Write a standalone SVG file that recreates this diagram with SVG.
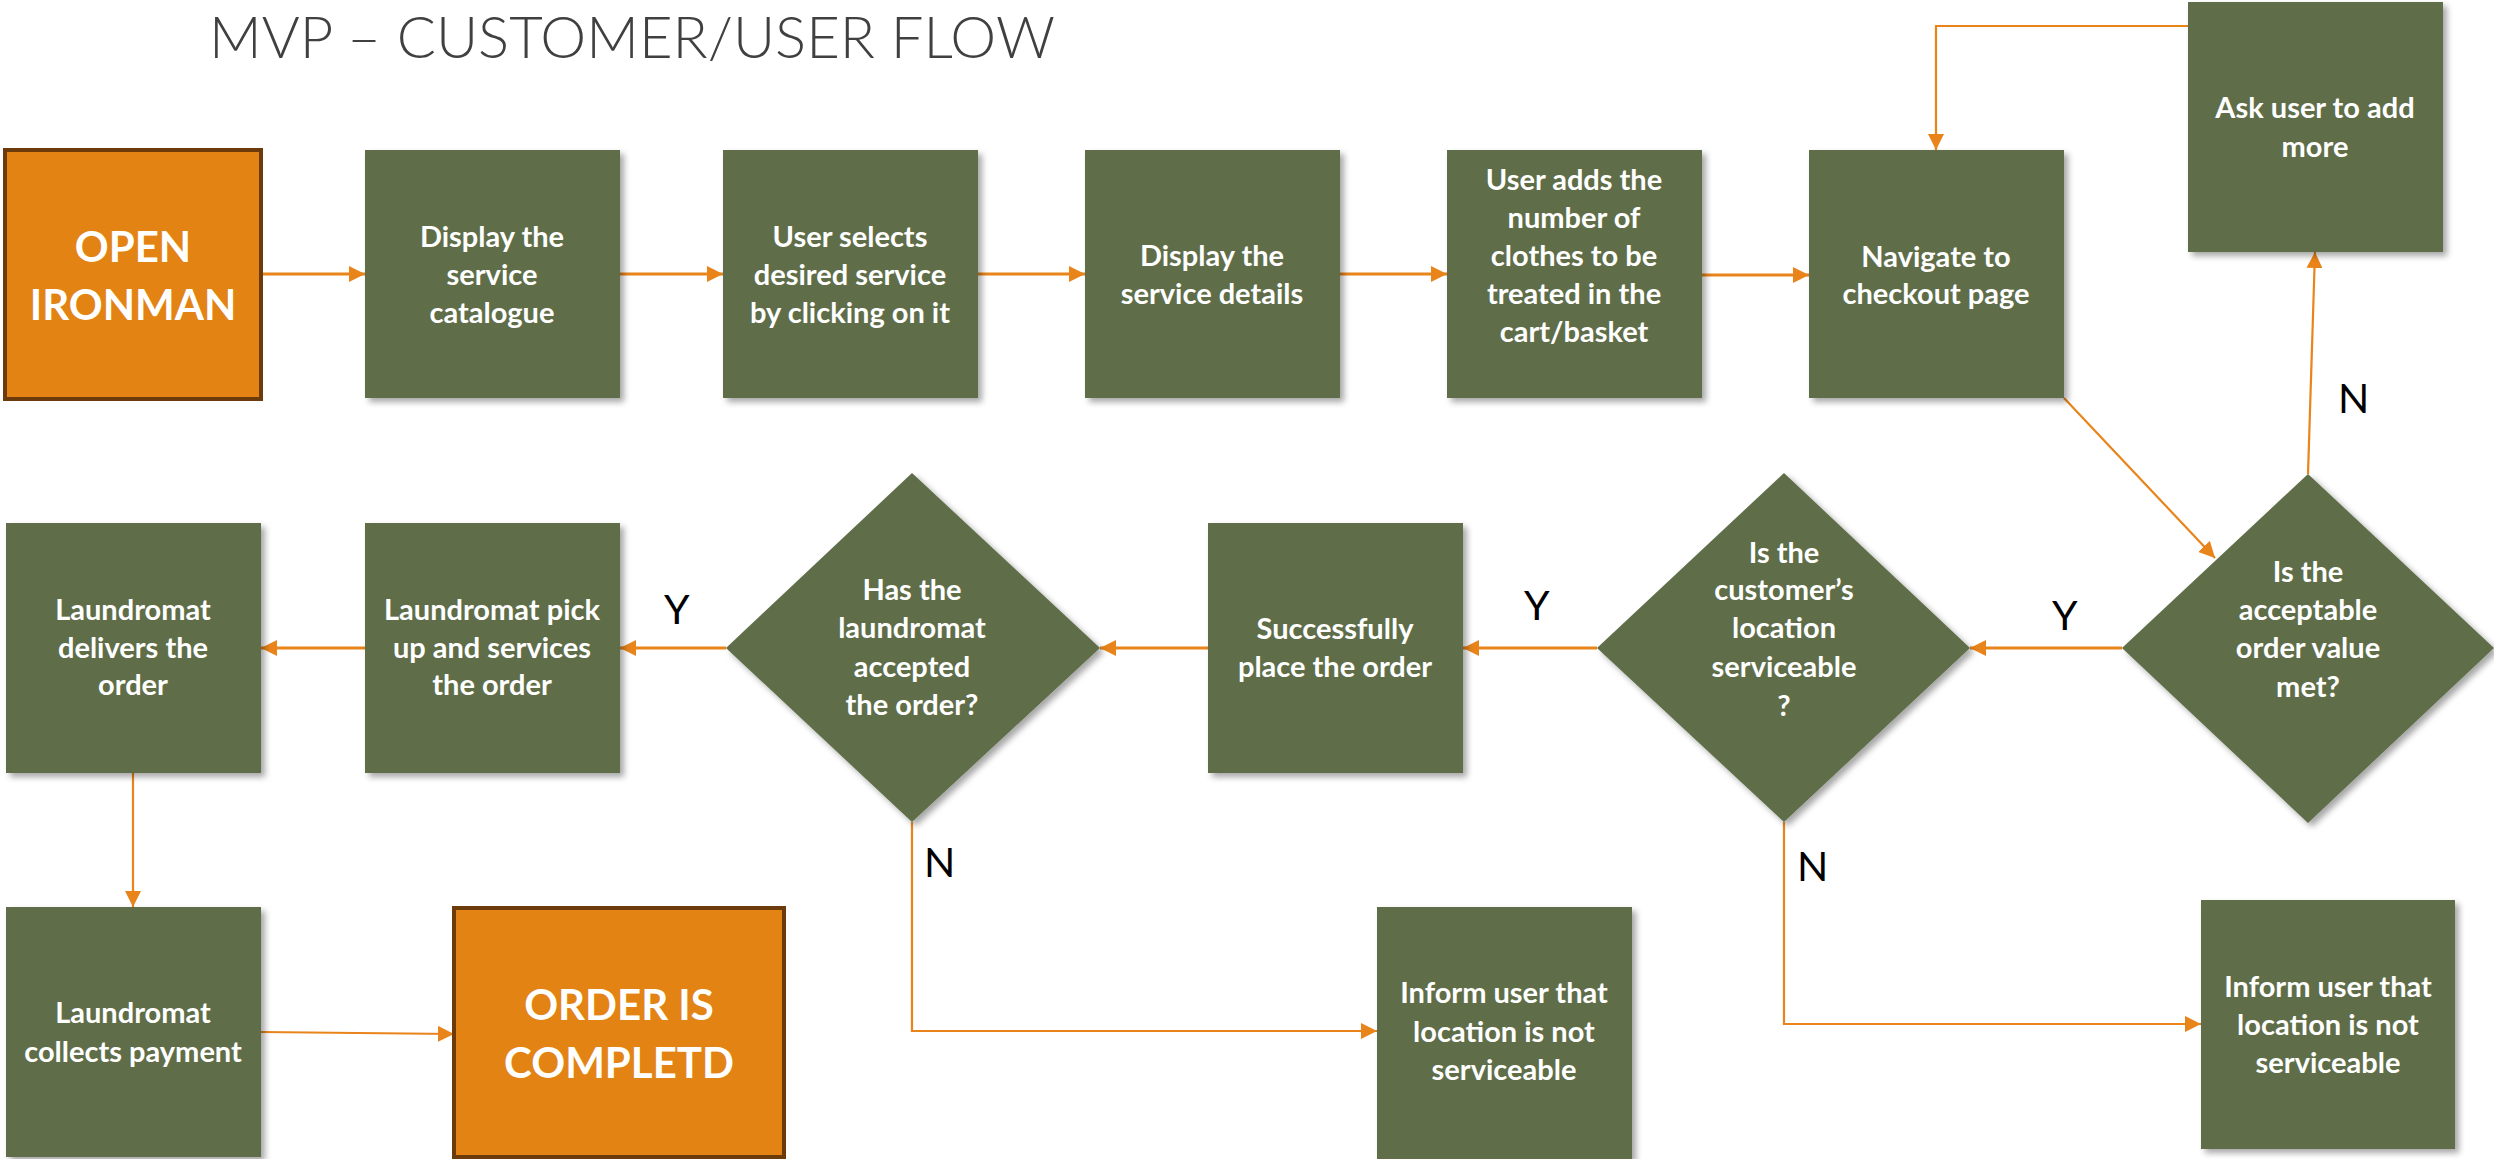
<svg xmlns="http://www.w3.org/2000/svg" width="2494" height="1159" viewBox="0 0 2494 1159">
  <style>
    .step { fill: #5F6E4A; filter: url(#shadow); }
    .term { fill: #E38314; stroke: #6B3B0C; stroke-width: 4; }
    .lbl { font-family: Lato, "Open Sans", "Liberation Sans", sans-serif; font-weight: 700; font-size: 29px; fill: #FFFFFF; text-anchor: middle; }
    .big { font-family: Lato, "Open Sans", "Liberation Sans", sans-serif; font-weight: 700; font-size: 42px; fill: #FFFFFF; text-anchor: middle; }
    .yn { font-family: Lato, "Open Sans", "Liberation Sans", sans-serif; font-weight: 400; font-size: 41px; fill: #000000; }
    .title { font-family: Lato, "Open Sans", "Liberation Sans", sans-serif; font-weight: 300; font-size: 58px; fill: #404040; }
    .wire { fill: none; stroke: #E8841A; stroke-width: 3; }
    .thin { stroke-width: 2.2; }
  </style>
  <defs>
    <filter id="shadow" x="-10%" y="-10%" width="130%" height="130%">
      <feDropShadow dx="4" dy="4" stdDeviation="3" flood-color="#000" flood-opacity="0.35"/>
    </filter>
    <marker id="arrow" markerUnits="userSpaceOnUse" markerWidth="16" markerHeight="16" refX="16" refY="8" orient="auto">
      <path d="M0,0 L16,8 L0,16 z" fill="#E8841A"/>
    </marker>
  </defs>

  <rect width="2494" height="1159" fill="#FFFFFF"/>

  <text class="title" x="209" y="58">MVP – CUSTOMER/USER FLOW</text>

  <!-- connectors -->
  <g id="connectors">
    <line class="wire" x1="261" y1="274" x2="365" y2="274" marker-end="url(#arrow)"/>
    <line class="wire" x1="620" y1="274" x2="723" y2="274" marker-end="url(#arrow)"/>
    <line class="wire" x1="978" y1="274" x2="1085" y2="274" marker-end="url(#arrow)"/>
    <line class="wire" x1="1340" y1="274" x2="1447" y2="274" marker-end="url(#arrow)"/>
    <line class="wire" x1="1702" y1="275" x2="1809" y2="275" marker-end="url(#arrow)"/>
    <line class="wire thin" x1="2064" y1="398" x2="2215" y2="558" marker-end="url(#arrow)"/>
    <line class="wire thin" x1="2308" y1="474" x2="2315" y2="252" marker-end="url(#arrow)"/>
    <polyline class="wire thin" points="2188,26 1936,26 1936,150" marker-end="url(#arrow)"/>
    <line class="wire" x1="2122" y1="648" x2="1970" y2="648" marker-end="url(#arrow)"/>
    <line class="wire" x1="1597" y1="648" x2="1463" y2="648" marker-end="url(#arrow)"/>
    <line class="wire" x1="1208" y1="648" x2="1100" y2="648" marker-end="url(#arrow)"/>
    <line class="wire" x1="726" y1="648" x2="620" y2="648" marker-end="url(#arrow)"/>
    <line class="wire" x1="365" y1="648" x2="261" y2="648" marker-end="url(#arrow)"/>
    <line class="wire thin" x1="133" y1="773" x2="133" y2="907" marker-end="url(#arrow)"/>
    <line class="wire thin" x1="261" y1="1032" x2="454" y2="1034" marker-end="url(#arrow)"/>
    <polyline class="wire thin" points="912,822 912,1031 1377,1031" marker-end="url(#arrow)"/>
    <polyline class="wire thin" points="1784,822 1784,1024 2201,1024" marker-end="url(#arrow)"/>

    <text class="yn" x="2338" y="413">N</text>
    <text class="yn" x="2052" y="630">Y</text>
    <text class="yn" x="1524" y="620">Y</text>
    <text class="yn" x="664" y="624">Y</text>
    <text class="yn" x="924" y="877">N</text>
    <text class="yn" x="1797" y="881">N</text>
  </g>

  <!-- row 1 -->
  <g id="open-ironman">
    <rect class="term" x="5" y="150" width="256" height="249"/>
    <text class="big" x="133" y="262">OPEN</text>
    <text class="big" x="133" y="320">IRONMAN</text>
  </g>
  <g id="display-catalogue">
    <rect class="step" x="365" y="150" width="255" height="248"/>
    <text class="lbl" x="492" y="247">Display the</text>
    <text class="lbl" x="492" y="285">service</text>
    <text class="lbl" x="492" y="323">catalogue</text>
  </g>
  <g id="select-service">
    <rect class="step" x="723" y="150" width="255" height="248"/>
    <text class="lbl" x="850" y="247">User selects</text>
    <text class="lbl" x="850" y="285">desired service</text>
    <text class="lbl" x="850" y="323">by clicking on it</text>
  </g>
  <g id="service-details">
    <rect class="step" x="1085" y="150" width="255" height="248"/>
    <text class="lbl" x="1212" y="266">Display the</text>
    <text class="lbl" x="1212" y="304">service details</text>
  </g>
  <g id="add-clothes">
    <rect class="step" x="1447" y="150" width="255" height="248"/>
    <text class="lbl" x="1574" y="190">User adds the</text>
    <text class="lbl" x="1574" y="228">number of</text>
    <text class="lbl" x="1574" y="266">clothes to be</text>
    <text class="lbl" x="1574" y="304">treated in the</text>
    <text class="lbl" x="1574" y="342">cart/basket</text>
  </g>
  <g id="checkout">
    <rect class="step" x="1809" y="150" width="255" height="248"/>
    <text class="lbl" x="1936" y="267">Navigate to</text>
    <text class="lbl" x="1936" y="304">checkout page</text>
  </g>
  <g id="ask-more">
    <rect class="step" x="2188" y="2" width="255" height="250"/>
    <text class="lbl" x="2315" y="118">Ask user to add</text>
    <text class="lbl" x="2315" y="157">more</text>
  </g>

  <!-- row 2 -->
  <g id="order-value">
    <polygon class="step" points="2308,474 2494,648 2308,823 2122,648"/>
    <text class="lbl" x="2308" y="582">Is the</text>
    <text class="lbl" x="2308" y="620">acceptable</text>
    <text class="lbl" x="2308" y="658">order value</text>
    <text class="lbl" x="2308" y="697">met?</text>
  </g>
  <g id="location-check">
    <polygon class="step" points="1784,473 1970,648 1784,822 1597,648"/>
    <text class="lbl" x="1784" y="563">Is the</text>
    <text class="lbl" x="1784" y="600">customer’s</text>
    <text class="lbl" x="1784" y="638">location</text>
    <text class="lbl" x="1784" y="677">serviceable</text>
    <text class="lbl" x="1784" y="716">?</text>
  </g>
  <g id="place-order">
    <rect class="step" x="1208" y="523" width="255" height="250"/>
    <text class="lbl" x="1335" y="639">Successfully</text>
    <text class="lbl" x="1335" y="677">place the order</text>
  </g>
  <g id="laundromat-accept">
    <polygon class="step" points="912,473 1100,648 912,822 726,648"/>
    <text class="lbl" x="912" y="600">Has the</text>
    <text class="lbl" x="912" y="638">laundromat</text>
    <text class="lbl" x="912" y="677">accepted</text>
    <text class="lbl" x="912" y="715">the order?</text>
  </g>
  <g id="pickup-service">
    <rect class="step" x="365" y="523" width="255" height="250"/>
    <text class="lbl" x="492" y="620">Laundromat pick</text>
    <text class="lbl" x="492" y="658">up and services</text>
    <text class="lbl" x="492" y="695">the order</text>
  </g>
  <g id="deliver">
    <rect class="step" x="6" y="523" width="255" height="250"/>
    <text class="lbl" x="133" y="620">Laundromat</text>
    <text class="lbl" x="133" y="658">delivers the</text>
    <text class="lbl" x="133" y="695">order</text>
  </g>

  <!-- row 3 -->
  <g id="collect-payment">
    <rect class="step" x="6" y="907" width="255" height="250"/>
    <text class="lbl" x="133" y="1023">Laundromat</text>
    <text class="lbl" x="133" y="1062">collects payment</text>
  </g>
  <g id="order-complete">
    <rect class="term" x="454" y="908" width="330" height="249"/>
    <text class="big" x="619" y="1020">ORDER IS</text>
    <text class="big" x="619" y="1078">COMPLETD</text>
  </g>
  <g id="not-accepted">
    <rect class="step" x="1377" y="907" width="255" height="252"/>
    <text class="lbl" x="1504" y="1003">Inform user that</text>
    <text class="lbl" x="1504" y="1042">location is not</text>
    <text class="lbl" x="1504" y="1080">serviceable</text>
  </g>
  <g id="not-serviceable">
    <rect class="step" x="2201" y="900" width="254" height="249"/>
    <text class="lbl" x="2328" y="997">Inform user that</text>
    <text class="lbl" x="2328" y="1035">location is not</text>
    <text class="lbl" x="2328" y="1073">serviceable</text>
  </g>
</svg>
